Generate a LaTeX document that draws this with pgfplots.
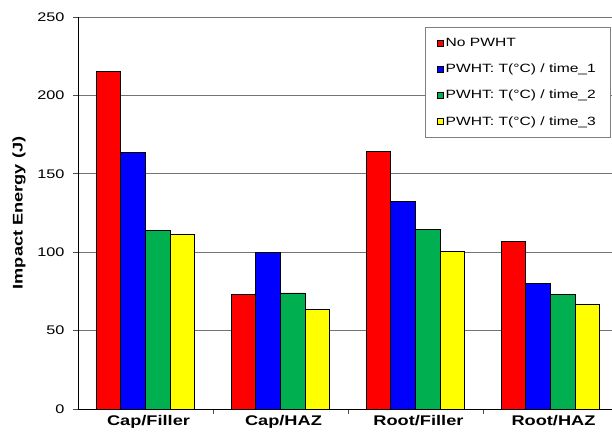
\documentclass[border=0pt]{standalone}
\usepackage{pgfplots}
\pgfplotsset{compat=1.18}
\usepackage{fontspec}
\setmainfont{Liberation Sans}[FakeStretch=1.3]
\definecolor{cred}{RGB}{255,0,0}
\definecolor{cblue}{RGB}{0,0,255}
\definecolor{cgreen}{RGB}{0,176,80}
\definecolor{cyellow}{RGB}{255,255,0}
\begin{document}
\begin{tikzpicture}
\begin{axis}[
  scale only axis,
  width=534pt, height=392pt,
  at={(0,0)}, anchor=south west,
  xmin=-0.5, xmax=3.456,
  ymin=0, ymax=250,
  ytick={0,50,100,150,200,250},
  ymajorgrids,
  grid style={black!55, line width=0.7pt},
  axis x line*=bottom, axis y line*=left,
  axis line style={black, line width=0.9pt, -},
  tick align=outside,
  major tick length=5pt,
  tick style={black!70, line width=0.7pt},
  xtick={0.5,1.5,2.5},
  xticklabels={},
  extra x ticks={0,1,2,3},
  extra x tick labels={Cap/Filler,Cap/HAZ,Root/Filler,Root/HAZ},
  extra x tick style={major tick length=0pt, grid=none,
    xticklabel style={font=\bfseries\fontsize{14}{16}\selectfont, yshift=-3pt, xshift=3pt}},
  /pgf/number format/assume math mode=true,
  yticklabel style={font=\fontsize{12.5}{14}\selectfont, xshift=-5pt},
  ylabel={Impact Energy (J)},
  ylabel style={font=\bfseries\fontsize{14}{16}\selectfont, at={(axis description cs:-0.1105,0.5)}, anchor=center},
  ybar=0pt,
  bar width=0.183,
  legend style={at={(0.9963,0.9745)}, anchor=north east, draw=black!50, fill=white,
    font=\fontsize{12}{14}\selectfont, row sep=12pt, inner xsep=12pt, inner ysep=9pt,
    cells={anchor=west}},
  legend image code/.code={\draw[#1, line width=0.6pt] (0pt,-3pt) rectangle (6pt,3pt);},
  legend cell align=left,
]
\addplot[fill=cred, draw=black, line width=0.8pt] coordinates {(0,215) (1,73) (2,164) (3,107)};
\addplot[fill=cblue, draw=black, line width=0.8pt] coordinates {(0,163.5) (1,100) (2,132.5) (3,80)};
\addplot[fill=cgreen, draw=black, line width=0.8pt] coordinates {(0,114) (1,74) (2,114.5) (3,73)};
\addplot[fill=cyellow, draw=black, line width=0.8pt] coordinates {(0,111.5) (1,63.5) (2,100.5) (3,66.5)};
\legend{No PWHT, PWHT: T(°C) / time\_1, PWHT: T(°C) / time\_2, PWHT: T(°C) / time\_3}
\end{axis}
\pgfresetboundingbox
\path[use as bounding box] (-78pt,-34pt) rectangle (534pt,409pt);
\end{tikzpicture}
\end{document}
